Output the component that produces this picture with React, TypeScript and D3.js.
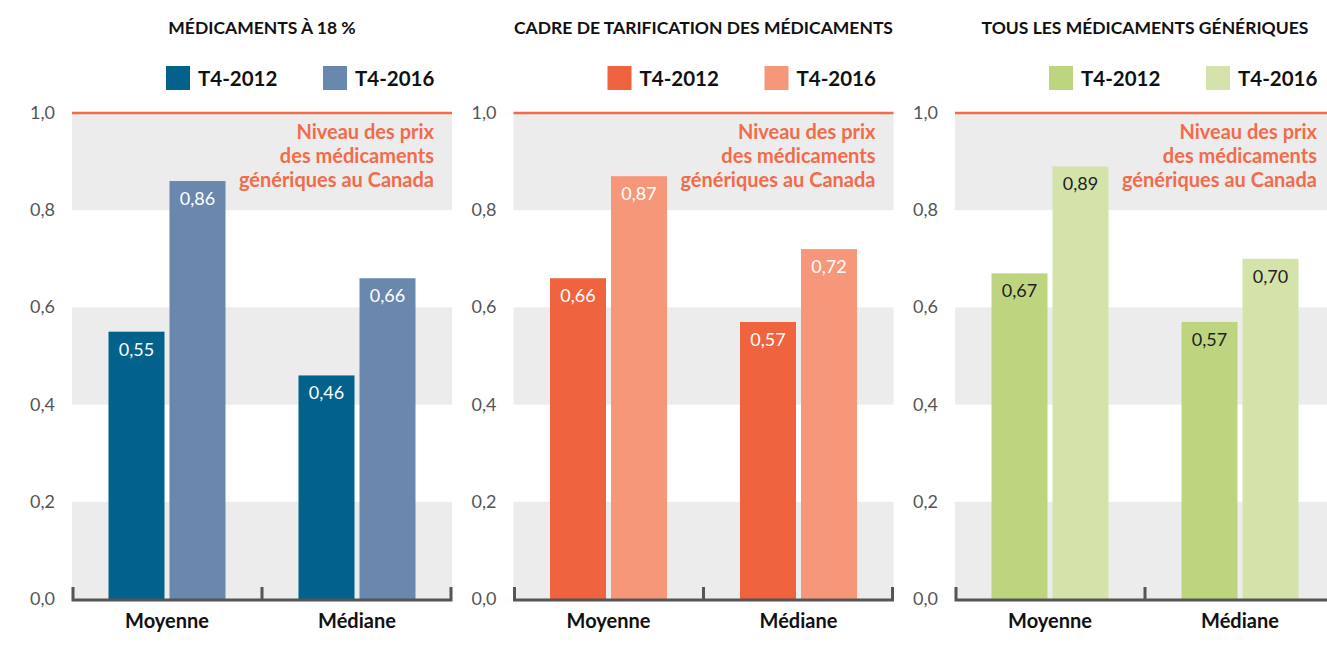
import React from 'react';
import * as d3 from 'd3';

// Chart data
const panelTitles = [
  'MÉDICAMENTS À 18 %',
  'CADRE DE TARIFICATION DES MÉDICAMENTS',
  'TOUS LES MÉDICAMENTS GÉNÉRIQUES',
];
const categories = ['Moyenne', 'Médiane'];
const seriesNames = ['T4-2012', 'T4-2016'];
const values2012 = [
  [0.55, 0.46],
  [0.66, 0.57],
  [0.67, 0.57],
];
const values2016 = [
  [0.86, 0.66],
  [0.87, 0.72],
  [0.89, 0.7],
];
const yTicks = [0, 0.2, 0.4, 0.6, 0.8, 1.0];
const annotationLines = ['Niveau des prix', 'des médicaments', 'génériques au Canada'];

const palettes = [
  ['#03628c', '#6a88ad'],
  ['#f0633f', '#f6977a'],
  ['#bed580', '#d4e3aa'],
];
const labelColors = ['#ffffff', '#ffffff', '#222222'];

const W = 1327;
const H = 651;
const FONT = 'Lato, "Open Sans", sans-serif';
const ORANGE = '#f26b4a';

const fmt = (v: number) => d3.format('.2f')(v).replace('.', ',');
const fmtTick = (v: number) => d3.format('.1f')(v).replace('.', ',');

function Panel({ index }: { index: number }) {
  const left = 72 + index * 441.5;
  const plotW = 380;
  const y = d3.scaleLinear().domain([0, 1]).range([599, 113]);
  const x0 = d3.scaleBand().domain(categories).range([0, plotW]);
  const groupW = 117;
  const x1 = d3.scaleBand().domain(seriesNames).range([0, groupW]).paddingInner(5 / 61);
  const offset = (x0.bandwidth() - groupW) / 2;
  const colors = palettes[index];
  const vals = [values2012[index], values2016[index]];
  const bands = [[0.8, 1.0], [0.4, 0.6], [0, 0.2]];

  return (
    <g>
      <text x={left + plotW / 2} y={34} textAnchor="middle" fontFamily={FONT}
        fontWeight={700} fontSize={17.5} fill="#111">{panelTitles[index]}</text>

      {seriesNames.map((s, i) => (
        <g key={s} transform={`translate(${left + 94 + i * 157},66)`}>
          <rect width={24} height={24} fill={colors[i]} />
          <text x={32} y={20} fontFamily={FONT} fontWeight={700} fontSize={20.5} fill="#111">{s}</text>
        </g>
      ))}

      {bands.map(([a, b]) => (
        <rect key={a} x={left} y={y(b)} width={plotW} height={y(a) - y(b)} fill="#ebeceb" />
      ))}
      <line x1={left} x2={left + plotW} y1={y(1)} y2={y(1)} stroke={ORANGE} strokeWidth={2.5} />

      {yTicks.map(t => (
        <text key={t} x={left - 17} y={y(t) + 6} textAnchor="end" fontFamily={FONT}
          fontSize={18} fill="#555">{fmtTick(t)}</text>
      ))}

      <text textAnchor="end" fontFamily={FONT} fontWeight={700} fontSize={20} fill={ORANGE}>
        {annotationLines.map((l, i) => (
          <tspan key={l} x={left + 362} y={139 + i * 24}>{l}</tspan>
        ))}
      </text>

      {categories.map((c, ci) => (
        <g key={c} transform={`translate(${left + (x0(c) as number) + offset},0)`}>
          {seriesNames.map((s, si) => {
            const v = vals[si][ci];
            const bx = x1(s) as number;
            return (
              <g key={s}>
                <rect x={bx} y={y(v)} width={x1.bandwidth()} height={y(0) - y(v)} fill={colors[si]} />
                <text x={bx + x1.bandwidth() / 2} y={y(v) + 24} textAnchor="middle"
                  fontFamily={FONT} fontSize={18} fill={labelColors[index]}>{fmt(v)}</text>
              </g>
            );
          })}
          <text x={x0.bandwidth() / 2 - offset} y={628} textAnchor="middle" fontFamily={FONT}
            fontWeight={700} fontSize={20} fill="#111">{c}</text>
        </g>
      ))}

      <path
        d={`M${left + 1},587 V600 H${left + plotW - 1} V587 M${left + plotW / 2},587 V600`}
        fill="none" stroke="#555" strokeWidth={3}
      />
    </g>
  );
}

export default function App() {
  return (
    <svg width={W} height={H} style={{ position: 'absolute', left: 0, top: 0, background: '#fff' }}>
      {panelTitles.map((_, i) => <Panel key={i} index={i} />)}
    </svg>
  );
}
